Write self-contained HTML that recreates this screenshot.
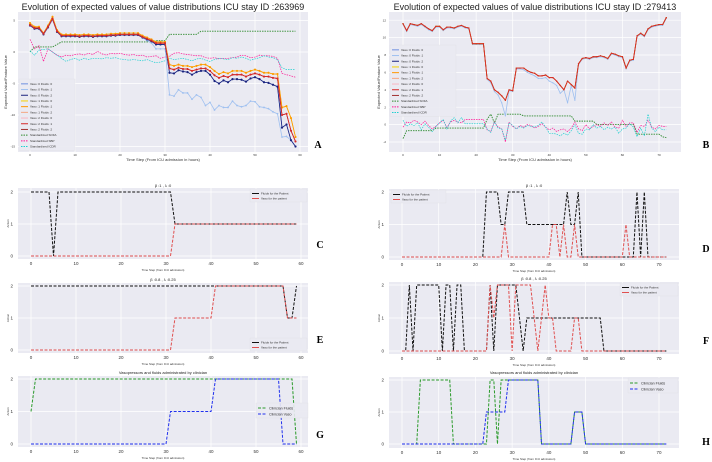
<!DOCTYPE html>
<html><head><meta charset="utf-8">
<style>
html,body{margin:0;padding:0;background:#fff;}
svg{display:block;font-family:"Liberation Sans",sans-serif;}
.lt{font-family:"Liberation Serif",serif;font-weight:bold;font-size:10px;}
</style></head>
<body>
<svg id="fig" width="712" height="462" viewBox="0 0 712 462"></svg>
<script>
// ---------- Panel A data (ICU stay 263969, t = 0..59) ----------
const topA=[4.6,4.0,4.0,3.0,4.2,5.6,3.5,2.8,2.8,2.8,2.8,2.7,2.8,2.8,2.7,2.8,2.8,2.8,2.9,2.9,3.0,3.0,3.0,3.0,3.0,2.6,2.3,2.0,1.6,1.6,1.6,-2.0,-2.2,-2.0,-2.2,-2.2,-2.4,-2.2,-2.0,-2.0,-2.4,-3.0,-3.5,-3.2,-3.4,-3.0,-3.0,-3.0,-3.3,-3.0,-2.8,-3.0,-3.3,-3.3,-3.5,-3.5,-8.8,-8.6,-10.5,-13.5];
const midA=[4.3,3.8,3.8,2.9,4.0,5.3,3.3,2.6,2.6,2.6,2.6,2.5,2.6,2.6,2.5,2.6,2.6,2.6,2.7,2.7,2.8,2.8,2.8,2.8,2.8,2.4,2.1,1.8,1.4,1.4,1.4,-2.6,-2.8,-2.5,-2.7,-2.7,-3.0,-2.8,-2.6,-2.6,-3.0,-3.7,-4.1,-3.8,-4.0,-3.6,-3.6,-3.6,-3.9,-3.6,-3.4,-3.6,-3.9,-3.9,-4.1,-4.2,-10.0,-9.8,-12.5,-14.2];
const lowA=[4.2,3.7,3.7,2.8,3.9,5.2,3.2,2.5,2.5,2.5,2.5,2.4,2.5,2.5,2.4,2.5,2.5,2.5,2.6,2.6,2.7,2.7,2.7,2.7,2.7,2.3,2.0,1.7,1.2,1.2,1.2,-3.3,-3.4,-2.9,-3.1,-3.2,-3.6,-3.2,-3.0,-3.0,-3.6,-4.6,-5.0,-4.5,-4.8,-4.3,-4.3,-4.4,-4.7,-4.2,-4.0,-4.3,-4.8,-4.9,-5.2,-5.5,-12.0,-11.5,-14.0,-15.0];
const outA=[4.4,3.9,3.9,2.9,4.1,5.4,3.4,2.7,2.7,2.7,2.7,2.6,2.7,2.7,2.6,2.7,2.7,2.7,2.8,2.8,2.9,2.9,2.9,2.9,2.9,2.3,1.8,1.4,0.5,0.5,0.5,-6.8,-7.0,-6.0,-6.5,-6.5,-7.5,-6.8,-7.2,-8.5,-8.0,-9.2,-8.5,-8.8,-8.8,-7.8,-8.5,-8.7,-8.5,-7.8,-7.9,-8.7,-8.8,-9.0,-9.5,-9.8,-13.5,-13.4,-14.0,-15.0];
const sofaA=[0,0.8,0.8,0.8,0.8,0.8,1.2,1.6,1.6,1.6,1.6,1.6,1.6,1.6,1.6,1.6,1.6,1.6,1.6,1.6,1.6,1.6,1.6,1.6,1.6,1.6,1.6,1.6,1.8,1.8,1.8,2.8,2.8,2.8,2.8,2.8,2.8,2.8,3.3,3.3,3.3,3.3,3.3,3.3,3.3,3.3,3.3,3.3,3.3,3.3,3.3,3.3,3.3,3.3,3.3,3.3,3.3,3.3,3.3,3.3];
const sbpA=[2.0,0.5,1.0,-1.5,0.5,0.0,-0.5,-0.8,-0.5,-0.6,-0.4,-0.3,-0.5,-0.2,-0.4,0.1,-0.3,-0.5,-0.2,-0.3,-0.2,-0.4,-0.5,-0.4,-0.6,-0.5,-0.8,-0.7,-0.6,-1.0,-0.8,-0.7,-0.2,-0.1,-0.3,-0.4,-0.5,-0.6,-0.6,-0.9,-1.0,-0.9,-1.1,-1.0,-1.0,-0.9,-0.8,-0.5,-0.6,-0.9,-0.8,-0.5,-0.6,-0.6,-0.7,-1.0,-3.4,-3.6,-3.8,-4.0];
const icdrA=[0.2,-0.5,0.3,0.4,0.5,0.0,-0.5,-1.0,-1.5,-1.2,-1.0,-1.3,-1.0,-1.2,-1.0,-1.0,-1.1,-0.9,-1.0,-0.9,-1.1,-1.2,-1.3,-1.2,-1.3,-1.4,-1.2,-1.5,-1.7,-1.6,-1.4,-1.0,-1.2,-1.1,-1.0,-1.2,-1.4,-1.1,-1.0,-1.3,-1.5,-1.2,-1.0,-1.1,-1.2,-0.9,-1.0,-0.8,-1.0,-1.3,-1.1,-0.9,-0.6,-0.8,-0.9,-1.2,-2.5,-2.8,-2.8,-2.8];
const yTicksA=[5,0,-5,-10,-15];
// ---------- Panel B data (ICU stay 279413, t = 0..72) ----------
const mainB=[11.6,10.8,11.6,11.5,11.4,11.6,11.3,11.0,10.8,11.3,11.3,10.9,11.2,11.2,11.1,11.3,11.4,11.2,11.1,9.3,9.3,9.3,9.3,5.3,5.0,4.0,3.7,3.3,2.8,4.0,3.9,6.5,6.5,6.5,6.2,6.0,5.9,5.6,5.6,5.7,5.4,5.4,5.0,4.5,4.0,5.0,4.6,4.2,7.0,7.6,7.7,7.6,7.8,7.8,7.9,7.8,7.6,8.2,8.1,7.9,7.8,6.5,7.4,7.5,10.2,10.5,10.2,11.0,11.3,11.4,11.5,11.5,12.3];
const outB=[11.5,10.7,11.5,11.4,11.3,11.5,11.2,10.9,10.7,11.2,11.2,10.8,11.1,11.1,11.0,11.2,11.3,11.1,11.0,9.2,9.2,9.2,9.2,5.2,4.8,3.8,3.4,2.5,1.0,3.9,3.8,6.4,6.4,6.3,6.0,5.8,5.6,5.3,5.3,5.4,5.0,4.8,4.5,3.6,4.0,2.5,4.5,2.8,6.9,7.5,7.6,7.5,7.7,7.7,7.8,7.7,7.5,8.1,8.0,7.8,7.7,6.4,7.3,7.4,10.1,10.4,10.1,10.9,11.2,11.3,11.4,11.4,12.2];
const sofaB=[-1.6,-0.7,-0.7,-0.7,-0.7,-0.7,-0.7,-0.7,-0.7,-0.4,-0.4,-0.4,-0.4,-0.4,-0.4,-0.4,-0.4,-0.4,-0.4,-0.4,-0.4,-0.4,-0.4,0.6,1.2,0.2,1.2,1.2,1.2,1.2,1.2,1.2,1.2,1.0,1.0,1.0,1.0,1.0,1.0,1.0,1.0,1.0,1.0,1.0,1.0,1.0,1.0,0.4,0.4,0.4,0.4,0.4,0.4,0.0,0.0,0.0,0.0,0.0,0.0,0.0,0.0,0.0,0.0,0.0,-1.1,-1.1,-1.1,-1.1,-1.1,-1.1,-1.1,-1.4,-1.5];
const sbpB=[-0.3,0.3,0.2,0.5,0.3,0.0,0.4,-0.1,-0.5,-0.2,0.2,0.5,-0.3,0.3,0.5,0.3,0.2,0.6,0.6,0.6,0.6,0.6,0.6,-0.6,-0.8,0.3,-0.3,-0.5,-2.0,0.3,-0.2,-0.5,-0.1,-0.3,0.0,-0.1,-0.4,-0.2,0.1,-0.3,-0.6,-0.4,-0.8,-0.6,-0.5,-0.8,-0.4,0.3,-0.5,-0.7,0.0,-0.5,-0.2,0.0,-0.2,0.2,-0.1,0.3,-0.3,-0.4,0.5,-0.2,0.2,0.2,-0.9,-0.1,-0.2,0.5,-0.3,-0.5,-0.1,-0.2,-0.2];
const icdrB=[0.5,-0.2,0.1,-0.1,0.2,-0.6,0.1,-0.3,-0.8,-0.2,0.2,0.6,-0.5,0.4,0.8,0.2,0.8,0.1,0.1,0.1,0.1,0.1,0.1,-0.5,-0.9,0.3,-0.4,-0.5,-1.8,0.2,-0.1,-0.5,-0.2,-0.4,-0.1,-0.2,-0.3,-0.1,0.3,-0.3,-1.0,-1.0,-1.1,-1.3,-1.0,-1.2,-0.7,0.0,-1.0,-1.1,-0.5,-0.6,0.0,-0.4,-0.2,-0.6,-0.3,-0.5,-0.3,-1.0,-0.5,-0.4,0.1,-0.3,-1.4,-0.4,-1.3,1.2,-0.4,-0.8,-0.3,-0.6,-0.6];
const yTicksB=[12,10,8,6,4,2,0,-2];
// ---------- Action panels ----------
const fluidsC=[2,2,2,2,2,0,2,2,2,2,2,2,2,2,2,2,2,2,2,2,2,2,2,2,2,2,2,2,2,2,2,2,1,1,1,1,1,1,1,1,1,1,1,1,1,1,1,1,1,1,1,1,1,1,1,1,1,1,1,1];
const vasoC=[0,0,0,0,0,0,0,0,0,0,0,0,0,0,0,0,0,0,0,0,0,0,0,0,0,0,0,0,0,0,0,0,1,1,1,1,1,1,1,1,1,1,1,1,1,1,1,1,1,1,1,1,1,1,1,1,1,1,1,1];
const fluidsE=[2,2,2,2,2,2,2,2,2,2,2,2,2,2,2,2,2,2,2,2,2,2,2,2,2,2,2,2,2,2,2,2,2,2,2,2,2,2,2,2,2,2,2,2,2,2,2,2,2,2,2,2,2,2,2,2,2,1,1,2];
const vasoE=[0,0,0,0,0,0,0,0,0,0,0,0,0,0,0,0,0,0,0,0,0,0,0,0,0,0,0,0,0,0,0,0,1,1,1,1,1,1,1,1,1,2,2,2,2,2,2,2,2,2,2,2,2,2,2,2,2,1,1,1];
const fluidsG=[1,2,2,2,2,2,2,2,2,2,2,2,2,2,2,2,2,2,2,2,2,2,2,2,2,2,2,2,2,2,2,2,2,2,2,2,2,2,2,2,2,2,2,2,2,2,2,2,2,2,2,2,2,2,2,2,2,2,2,0];
const vasoG=[0,0,0,0,0,0,0,0,0,0,0,0,0,0,0,0,0,0,0,0,0,0,0,0,0,0,0,0,0,0,0,1,1,1,1,1,1,1,1,1,1,2,2,2,2,2,2,2,2,2,2,2,2,2,2,2,0,0,0,0];
const fluidsD=[0,0,0,0,0,0,0,0,0,0,0,0,0,0,0,0,0,0,0,0,0,0,0,2,2,2,2,1,1,2,2,2,2,2,1,1,1,1,1,1,1,1,1,1,1,2,1,1,2,0,0,0,0,0,0,0,0,0,0,0,0,0,0,0,2,0,2,0,0,0,0,0,0];
const vasoD=[0,0,0,0,0,0,0,0,0,0,0,0,0,0,0,0,0,0,0,0,0,0,0,0,0,0,0,0,1,0,0,0,0,0,0,0,0,0,0,0,0,1,1,0,1,0,0,1,0,0,0,0,0,0,0,0,0,0,0,0,0,1,0,0,0,0,0,0,0,0,0,0,0];
const fluidsF=[0,0,2,0,2,2,2,2,2,2,2,0,2,2,0,2,2,0,0,0,0,0,0,0,2,0,2,2,2,2,2,2,1,0,1,1,1,1,1,1,1,1,1,1,1,1,1,1,1,1,1,1,1,1,1,0,0,0,0,0,0,0,0,0,0,0,0,0,0,0,0,0,0];
const vasoF=[0,0,0,0,0,0,0,0,0,0,0,0,0,0,0,0,0,0,0,0,0,0,0,0,2,1,2,2,2,2,0,2,2,2,2,2,1,0,1,2,1,1,0,0,0,0,0,1,1,0,0,0,0,0,0,0,0,0,0,0,0,0,0,0,0,0,0,0,0,0,0,0,0];
const fluidsH=[0,0,0,0,0,2,2,2,2,2,2,2,2,2,0,0,0,0,0,0,0,0,0,0,2,2,0,2,2,2,2,2,2,2,2,2,2,2,0,0,0,0,0,0,0,0,0,1,1,1,0,0,0,0,0,0,0,0,0,0,0,0,0,0,0,0,0,0,0,0,0,0,0];
const vasoH=[0,0,0,0,0,0,0,0,0,0,0,0,0,0,0,0,0,0,0,0,0,0,0,1,1,1,1,1,1,2,2,2,2,2,2,2,2,2,0,0,0,0,0,0,0,0,0,1,1,1,0,0,0,0,0,0,0,0,0,0,0,0,0,0,0,0,0,0,0,0,0,0,0];
const actionTicks=[0,1,2];
const xTicks60=[0,10,20,30,40,50,60];
const xTicks70=[0,10,20,30,40,50,60,70];

const NS="http://www.w3.org/2000/svg";
const svg=document.getElementById('fig');
function mk(tag,attrs,parent){const e=document.createElementNS(NS,tag);for(const k in attrs)e.setAttribute(k,attrs[k]);(parent||svg).appendChild(e);return e;}
function txt(s,x,y,size,parent,anchor,fill){const t=mk('text',{x:x,y:y,'font-size':size,'text-anchor':anchor||'middle',fill:fill||'#333'},parent);t.textContent=s;return t;}

function makePanel(p){
  const g=mk('g',{});
  
  
  const bg=mk('rect',{x:p.x0,y:p.y0,width:p.x1-p.x0,height:p.y1-p.y0,fill:'#eaeaf2'},g);
  
  
  const sx=v=>p.xa+(v-p.xv0)*(p.xb-p.xa)/(p.xv1-p.xv0);
  const sy=v=>p.ya+(v-p.yv0)*(p.yb-p.ya)/(p.yv1-p.yv0);
  p.xt.forEach(v=>{
    mk('line',{x1:sx(v),x2:sx(v),y1:p.y0,y2:p.y1,stroke:'#fff','stroke-width':0.7},g);
    const t=txt(String(v),sx(v),p.y1+p.xtOff,p.xtSize,g);
    
    
  });
  p.yt.forEach(v=>{
    mk('line',{x1:p.x0,x2:p.x1,y1:sy(v),y2:sy(v),stroke:'#fff','stroke-width':0.7},g);
    const t=txt(String(v),p.x0-p.ytOff,sy(v)+p.ytSize*0.35,p.ytSize,g,'end');
    
    
  });
  p.series.forEach(s=>{
    const pts=s.data.map((v,i)=>sx(i).toFixed(2)+','+sy(v).toFixed(2)).join(' ');
    const pl=mk('polyline',{points:pts,fill:'none',stroke:s.color,'stroke-width':s.w||0.8,'stroke-dasharray':s.dash||'none'},g);
    
    
    if(s.marker){s.data.forEach((v,i)=>{mk('circle',{cx:sx(i),cy:sy(v),r:s.marker,fill:s.color},g);});}
  });
  if(p.title){const t=txt(p.title,(p.x0+p.x1)/2,p.titleY,p.titleSize,g,'middle','#222');
    
    }
  if(p.xlabel){const t=txt(p.xlabel,(p.x0+p.x1)/2,p.xlabelY,p.xlabelSize,g,'middle','#333');
    
    }
  if(p.ylabel){const cy=(p.y0+p.y1)/2;const t=mk('text',{x:p.ylabelX,y:cy,'font-size':p.ylabelSize,'text-anchor':'middle',fill:'#333',transform:`rotate(-90 ${p.ylabelX} ${cy})`},g);t.textContent=p.ylabel;
    
    }
  if(p.legend){const L=p.legend;
    const lg=mk('g',{},g);
    
    
    mk('rect',{x:L.x,y:L.y,width:L.w,height:L.items.length*L.dy+3,fill:'#eaeaf2',stroke:'#ddd','stroke-width':0.3,opacity:0.9},lg);
    L.items.forEach((it,i)=>{const yy=L.y+2+L.dy*(i+0.5);
      mk('line',{x1:L.x+2,x2:L.x+2+L.line,y1:yy,y2:yy,stroke:it[1],'stroke-width':1,'stroke-dasharray':it[2]||'none'},lg);
      const t=txt(it[0],L.x+4+L.line,yy+L.fs*0.35,L.fs,lg,'start','#333');
      
      
    });}
  if(p.letter){const t=txt(p.letter[0],p.letter[1],p.letter[2],10,g,'middle','#000');t.setAttribute('class','lt');
    
    }
}

const C={v00:'#6f8fe0',v01:'#9fc0f0',v02:'#1a237e',v10:'#f5d000',v11:'#ff9800',v12:'#f4a582',v20:'#f7b6c2',v21:'#d62728',v22:'#a03030',sofa:'#2e8b2e',sbp:'#ff1493',icdr:'#20d0d0'};
const legendNames=['Vaso :0 Fluids :0','Vaso :0 Fluids :1','Vaso :0 Fluids :2','Vaso :1 Fluids :0','Vaso :1 Fluids :1','Vaso :1 Fluids :2','Vaso :2 Fluids :0','Vaso :2 Fluids :1','Vaso :2 Fluids :2','Standardized SOFA','Standardized SBP','Standardized ICDR'];
const legendCols=[C.v00,C.v01,C.v02,C.v10,C.v11,C.v12,C.v20,C.v21,C.v22,C.sofa,C.sbp,C.icdr];
const legItems=legendNames.map((n,i)=>[n,legendCols[i],i>=9?'1.5,1':'none']);

// Panel A
makePanel({name:'panel-a-value-chart',x0:18,x1:308,y0:12,y1:152,xa:30,xb:300,xv0:0,xv1:60,ya:52,yb:115,yv0:0,yv1:-10,
 xt:xTicks60,yt:yTicksA,xtOff:4,xtSize:3,ytOff:3,ytSize:3,
 title:'Evolution of expected values of value distributions ICU stay ID :263969',titleY:10,titleSize:9,
 xlabel:'Time Step (From ICU admission in hours)',xlabelY:161,xlabelSize:4,ylabel:'Expected Value/Feature Value',ylabelX:7,ylabelSize:4,
 series:[
  {id:'series-sofa',data:sofaA,color:C.sofa,dash:'1.5,1',w:0.9},
  {id:'series-sbp',data:sbpA,color:C.sbp,dash:'1.5,1',w:0.7},
  {id:'series-icdr',data:icdrA,color:C.icdr,dash:'1.5,1',w:0.7},
  {id:'series-v0-f1',data:outA,color:C.v01,marker:0.9},
  {id:'series-v0-f0',data:lowA,color:C.v00,marker:0.9},
  {id:'series-v0-f2',data:lowA,color:C.v02,marker:1.1},
  {id:'series-v1-f0',data:topA,color:C.v10,marker:1.0},
  {id:'series-v1-f1',data:topA,color:C.v11,marker:1.0},
  {id:'series-v1-f2',data:midA,color:C.v12,marker:0.9},
  {id:'series-v2-f0',data:midA,color:C.v20,marker:0.9},
  {id:'series-v2-f2',data:midA,color:C.v22,marker:0.9},
  {id:'series-v2-f1',data:midA,color:C.v21,marker:1.0}],
 legend:{x:19,y:79,w:56,dy:5.7,line:7,fs:3,items:legItems},letter:['A',318,148]});

// Panel B
makePanel({name:'panel-b-value-chart',x0:389,x1:681,y0:12,y1:152,xa:403,xb:659,xv0:0,xv1:70,ya:124.6,yb:142,yv0:0,yv1:-2,
 xt:xTicks70,yt:yTicksB,xtOff:4,xtSize:3,ytOff:3,ytSize:3,
 title:'Evolution of expected values of value distributions ICU stay ID :279413',titleY:10,titleSize:9,
 xlabel:'Time Step (From ICU admission in hours)',xlabelY:161,xlabelSize:4,ylabel:'Expected Value/Feature Value',ylabelX:380,ylabelSize:4,
 series:[
  {id:'series-sofa',data:sofaB,color:C.sofa,dash:'1.5,1',w:0.9},
  {id:'series-sbp',data:sbpB,color:C.sbp,dash:'1.5,1',w:0.7},
  {id:'series-icdr',data:icdrB,color:C.icdr,dash:'1.5,1',w:0.7},
  {id:'series-v0-f1',data:outB,color:C.v01,marker:0.6},
  {id:'series-v0-f0',data:mainB,color:C.v00,marker:0.6},
  {id:'series-v0-f2',data:mainB,color:C.v02,marker:0.6},
  {id:'series-v1-f0',data:mainB,color:C.v10,marker:0.6},
  {id:'series-v1-f1',data:mainB,color:C.v11,marker:0.6},
  {id:'series-v2-f1',data:mainB,color:C.v21,marker:0.6,w:0.9}],
 legend:{x:390,y:45,w:66,dy:5.7,line:7,fs:3,items:legItems},letter:['B',706,148]});

function actionPanel(o){
  const sixty=o.n===60;
  makePanel({name:o.name,x0:o.x0,x1:o.x1,y0:o.y0,y1:o.y1,xa:o.xa,xb:o.xb,xv0:0,xv1:sixty?60:70,ya:o.y2,yb:o.y00,yv0:2,yv1:0,
   xt:sixty?xTicks60:xTicks70,yt:actionTicks,xtOff:6,xtSize:4.5,ytOff:5,ytSize:4.5,
   title:o.title,titleY:o.titleY,titleSize:o.titleSize||4,xlabel:'Time Step (from ICU admission)',xlabelY:o.y1+12,xlabelSize:3,
   ylabel:'Action',ylabelX:o.x0-9,ylabelSize:3,series:o.series,legend:o.legend,letter:o.letter});
}
const blk='#111',red='#e05050',grn='#2a9a2a',blu='#2030ee';
function fv(f,v,c1,c2){return [{id:'fluids-line',data:f,color:c1,dash:'3,1.5',w:1},{id:'vaso-line',data:v,color:c2,dash:'3,1.5',w:1}];}
const patLeg=[['Fluids for the Patient',blk],['Vaso for the patient',red]];
const cliLeg=[['Clinician Fluids',grn,'3,1.5'],['Clinician Vaso',blu,'3,1.5']];

actionPanel({name:'panel-c-policy',n:60,x0:18,x1:308,y0:188,y1:259,xa:31,xb:301,y2:192,y00:256,title:'β :1 , λ :0',titleY:187,
 series:fv(fluidsC,vasoC,blk,red),legend:{x:250,y:189,w:57,dy:5,line:7,fs:3,items:patLeg},letter:['C',320,248]});
actionPanel({name:'panel-e-policy',n:60,x0:18,x1:308,y0:283,y1:353,xa:31,xb:301,y2:286,y00:350,title:'β :0.8 , λ :0.25',titleY:281,
 series:fv(fluidsE,vasoE,blk,red),legend:{x:250,y:338,w:57,dy:5,line:7,fs:3,items:patLeg},letter:['E',320,343]});
actionPanel({name:'panel-g-clinician',n:60,x0:18,x1:308,y0:376,y1:447,xa:31,xb:301,y2:379,y00:444,title:'Vasopressors and fluids administrated by clinician',titleY:374,
 series:fv(fluidsG,vasoG,grn,blu),legend:{x:256,y:403,w:52,dy:6,line:9,fs:3.6,items:cliLeg},letter:['G',320,438]});
actionPanel({name:'panel-d-policy',n:73,x0:389,x1:679,y0:189,y1:260,xa:402,xb:659,y2:192,y00:257,title:'β :1 , λ :0',titleY:187,
 series:fv(fluidsD,vasoD,blk,red),legend:{x:391,y:190,w:55,dy:5,line:7,fs:3,items:patLeg},letter:['D',706,252]});
actionPanel({name:'panel-f-policy',n:73,x0:389,x1:679,y0:282,y1:354,xa:402,xb:659,y2:285,y00:351,title:'β :0.8 , λ :0.25',titleY:280,
 series:fv(fluidsF,vasoF,blk,red),legend:{x:620,y:283,w:58,dy:5,line:7,fs:3,items:patLeg},letter:['F',706,344]});
actionPanel({name:'panel-h-clinician',n:73,x0:389,x1:679,y0:377,y1:448,xa:402,xb:659,y2:380,y00:444,title:'Vasopressors and fluids administrated by clinician',titleY:374,
 series:fv(fluidsH,vasoH,grn,blu),legend:{x:628,y:378,w:50,dy:6,line:9,fs:3.6,items:cliLeg},letter:['H',706,445]});
</script>
</body></html>
